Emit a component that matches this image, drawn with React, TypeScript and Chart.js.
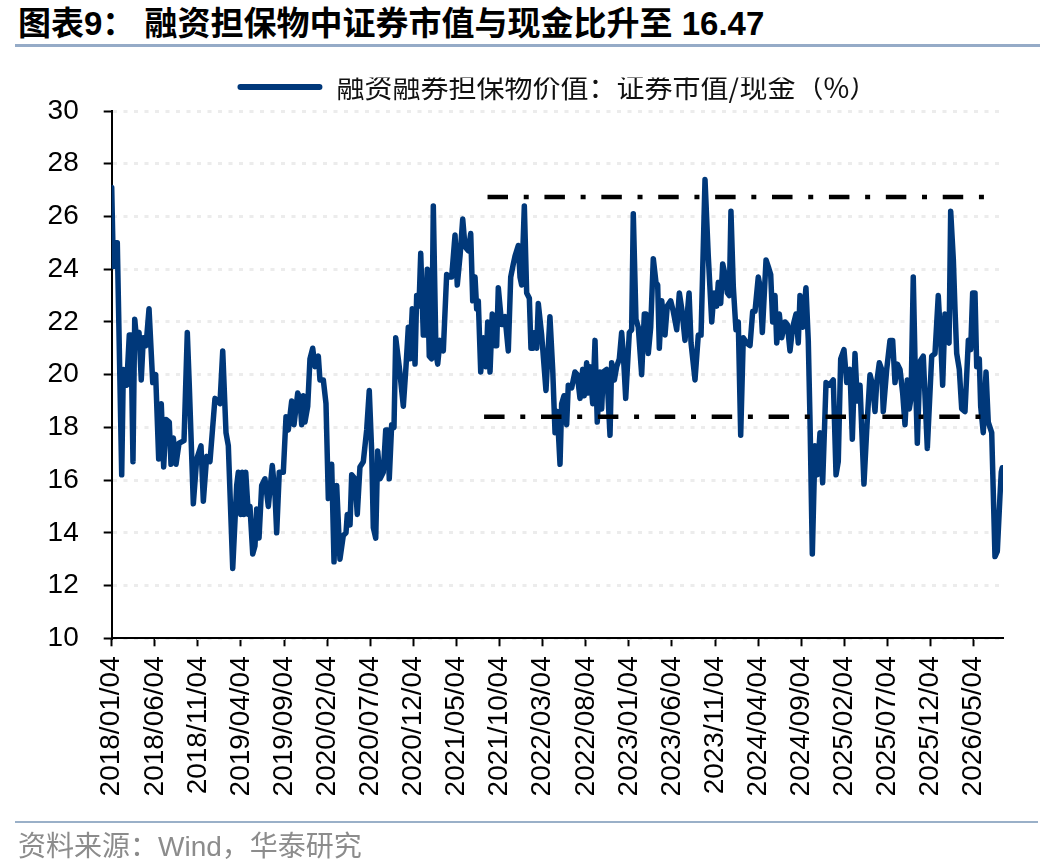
import { useEffect, useRef } from "react";
import { Chart, registerables } from "chart.js";

Chart.register(...registerables);

// x = months since 2018/01/04, y = 证券市值/现金 (%)
const monthOffset = [
    0.0, 0.19, 0.38, 0.65, 1.16, 1.35, 1.74, 2.04, 2.24, 2.47, 2.67, 2.9, 3.17, 3.43, 3.67, 3.98, 4.33, 4.76,
    5.1, 5.45, 5.75, 6.03, 6.3, 6.68, 6.88, 7.15, 7.46, 7.81, 8.39, 8.77, 9.0, 9.47, 9.86, 10.36, 10.63, 11.02,
    11.4, 11.98, 12.56, 12.88, 13.26, 13.53, 14.04, 14.5, 14.69, 14.97, 15.15, 15.35, 15.55, 15.85, 16.04,
    16.36, 16.62, 16.82, 17.09, 17.4, 17.78, 18.17, 18.63, 18.94, 19.14, 19.44, 19.91, 20.22, 20.49, 20.88,
    21.15, 21.58, 21.84, 22.04, 22.23, 22.42, 22.74, 23.0, 23.32, 23.58, 23.97, 24.16, 24.55, 24.86, 25.13,
    25.52, 25.79, 26.1, 26.48, 26.87, 27.18, 27.33, 27.65, 27.84, 28.23, 28.49, 28.8, 29.19, 29.58, 29.88,
    30.16, 30.35, 30.63, 30.86, 31.13, 31.51, 31.79, 32.02, 32.2, 32.48, 32.75, 32.95, 33.36, 33.83, 34.14,
    34.41, 34.61, 34.87, 35.19, 35.38, 35.65, 35.85, 36.15, 36.38, 36.61, 36.84, 37.12, 37.31, 37.62, 37.82,
    38.09, 38.47, 38.86, 39.16, 39.44, 39.83, 40.09, 40.41, 40.72, 40.99, 41.37, 41.65, 41.88, 42.15, 42.34,
    42.53, 42.81, 43.11, 43.42, 43.62, 43.89, 44.15, 44.47, 44.66, 44.85, 45.24, 45.63, 46.01, 46.29, 46.59,
    46.79, 47.17, 47.37, 47.56, 47.87, 48.14, 48.45, 48.64, 48.91, 49.1, 49.3, 49.49, 49.88, 50.38, 50.84,
    51.16, 51.43, 51.69, 52.01, 52.2, 52.47, 52.78, 52.97, 53.36, 53.74, 54.01, 54.33, 54.64, 54.82, 55.1,
    55.29, 55.48, 55.8, 56.07, 56.33, 56.65, 56.84, 57.03, 57.42, 57.81, 58.0, 58.31, 58.58, 58.89, 59.16,
    59.35, 59.63, 60.05, 60.32, 60.51, 60.82, 61.09, 61.48, 61.79, 61.98, 62.25, 62.53, 62.83, 63.14, 63.34,
    63.53, 63.81, 64.19, 64.45, 64.85, 65.15, 65.55, 65.85, 66.13, 66.51, 66.98, 67.21, 67.67, 68.05, 68.37,
    68.83, 69.21, 69.61, 69.87, 70.19, 70.37, 70.65, 70.88, 71.15, 71.42, 71.65, 71.84, 72.11, 72.42, 72.69,
    72.97, 73.27, 73.67, 74.05, 74.36, 74.63, 75.01, 75.21, 75.48, 75.91, 76.17, 76.45, 76.68, 76.95, 77.15,
    77.45, 77.73, 78.11, 78.38, 78.69, 79.0, 79.39, 79.65, 79.85, 80.16, 80.54, 80.81, 81.01, 81.28, 81.59,
    81.86, 82.17, 82.48, 82.87, 83.25, 83.71, 84.03, 84.29, 84.57, 84.95, 85.27, 85.65, 85.92, 86.23, 86.5,
    86.81, 87.27, 87.59, 87.97, 88.28, 88.55, 88.75, 89.05, 89.33, 89.51, 89.91, 90.29, 90.6, 90.87, 91.14,
    91.45, 91.76, 92.03, 92.3, 92.53, 92.73, 92.99, 93.19, 93.46, 93.77, 94.15, 94.62, 95.13, 95.51, 95.89,
    96.17, 96.4, 96.67, 96.94, 97.14, 97.33, 97.64, 97.83, 98.03, 98.33, 98.61, 98.99, 99.38, 99.65, 99.88,
    100.15, 100.35, 100.65, 100.81, 101.11, 101.43, 101.69, 102.09, 102.47, 102.74, 103.05, 103.2, 103.32,
];

const ratio = [
    27.1, 24.1, 25.0, 25.0, 16.2, 20.2, 19.6, 21.5, 21.5, 16.7, 22.1, 21.3, 21.6, 19.8, 21.4, 21.1, 22.5, 19.7,
    20.0, 16.8, 18.9, 16.5, 18.3, 18.2, 16.6, 17.6, 16.6, 17.4, 17.5, 21.6, 19.6, 15.1, 16.8, 17.3, 15.2, 16.9,
    16.7, 19.1, 18.9, 20.9, 17.8, 17.3, 12.65, 15.8, 16.3, 14.7, 16.3, 14.7, 16.3, 14.7, 15.0,
    13.2, 13.5, 14.9, 13.8, 15.8, 16.05, 15.0, 16.55, 15.5, 14.0, 16.3, 16.3, 18.4, 17.9, 19.0,
    18.1, 19.3, 19.1, 18.1, 19.2, 18.2, 18.8, 20.6, 21.0, 20.3, 20.7, 19.8, 19.8, 18.9, 15.3,
    16.6, 12.9, 15.8, 13.0, 13.9, 14.0, 14.7, 14.3, 16.2, 16.05, 14.7, 16.5, 16.7, 17.9, 19.4,
    17.1, 14.2, 13.8, 17.1, 16.05, 16.3, 17.9, 17.9, 16.05, 18.1, 18.0, 21.4, 20.3, 18.8, 20.3,
    21.8, 20.6, 22.5, 20.4, 23.0, 22.6, 24.6, 21.5, 21.5, 24.0, 20.7, 20.6, 26.4, 20.8, 20.4,
    21.3, 20.9, 23.8, 23.7, 23.7, 25.3, 23.4, 24.5, 25.9, 24.85, 24.7, 25.35, 22.8, 23.7, 22.5,
    22.8, 20.1, 21.4, 20.3, 22.0, 20.1, 22.3, 21.1, 21.1, 23.3, 21.9, 22.2, 20.9, 23.7, 24.2,
    24.5, 24.9, 23.7, 23.4, 26.4, 23.1, 22.9, 21.0, 21.0, 21.6, 21.0, 22.7, 21.5, 19.4, 22.2,
    20.2, 17.8, 18.6, 16.6, 18.9, 19.2, 18.1, 19.6, 19.5, 20.1, 20.0, 19.1, 20.2, 19.2, 20.45,
    19.3, 20.3, 18.9, 21.3, 18.2, 20.1, 18.7, 20.1, 20.2, 17.7, 20.45, 19.8, 20.3, 20.6, 21.6,
    20.8, 19.1, 21.6, 21.7, 26.1, 22.1, 21.8, 20.0, 22.3, 22.3, 20.8, 21.8, 24.4, 23.5, 23.4,
    21.0, 22.8, 21.5, 22.6, 22.8, 22.4, 21.7, 23.1, 22.5, 21.3, 23.1, 21.2, 19.8, 21.5, 21.5,
    27.4, 24.5, 22.0, 23.1, 22.6, 23.5, 22.7, 24.2, 23.8, 23.1, 23.0, 26.2, 23.35, 21.7, 22.0,
    17.7, 21.4, 21.2, 21.1, 22.4, 22.4, 23.7, 23.35, 21.6, 24.35, 24.1, 23.8, 22.0, 23.0, 21.2,
    22.3, 21.4, 22.0, 21.9, 20.9, 21.8, 22.3, 21.2, 23.0, 21.8, 23.3, 21.3, 18.3, 13.2, 17.3,
    16.2, 17.8, 15.9, 19.7, 19.6, 19.8, 16.2, 16.7, 20.6, 20.95, 19.7, 20.2, 17.55, 20.8, 19.0,
    19.6, 15.85, 17.9, 20.0, 19.6, 18.6, 19.7, 20.45, 20.2, 18.6, 20.2, 21.3, 21.3, 19.7, 20.4,
    20.2, 19.3, 18.1, 19.8, 18.7, 19.1, 23.7, 20.6, 17.4, 20.5, 20.7, 17.2, 20.7, 20.8, 23.0,
    21.3, 19.6, 22.3, 21.3, 21.2, 26.2, 24.35, 22.5, 20.8, 20.2, 18.7, 18.6, 21.3, 20.95, 23.1,
    23.1, 20.3, 20.6, 18.8, 17.8, 20.1, 18.2, 17.8, 13.1, 13.3, 15.4, 16.3, 16.47,
];

const tickMonths = [0, 5, 10, 15, 20, 25, 30, 35, 40, 45, 50, 55, 60, 65, 70, 75, 80, 85, 90, 95, 100];
const tickLabels = [
    "2018/01/04", "2018/06/04", "2018/11/04", "2019/04/04", "2019/09/04", "2020/02/04", "2020/07/04",
    "2020/12/04", "2021/05/04", "2021/10/04", "2022/03/04", "2022/08/04", "2023/01/04", "2023/06/04",
    "2023/11/04", "2024/04/04", "2024/09/04", "2025/02/04", "2025/07/04", "2025/12/04", "2026/05/04",
];

// 区间参考线
const upperBand = 26.74;
const lowerBand = 18.4;
const upperStart = 43.6;
const lowerStart = 43.2;
const bandEnd = 102.45;

const seriesName = "融资融券担保物价值：证券市值/现金（%）";
const NAVY = "#00387a";
const LATIN = '"Liberation Sans", Arial, sans-serif';
const CJK = '"Liberation Sans", "Noto Sans CJK SC", sans-serif';

const RatioChart = () => {
    const chartRef = useRef<HTMLCanvasElement>(null);
    const chartInstance = useRef<Chart | null>(null);

    useEffect(() => {
        document.body.style.margin = "0";
        if (!chartRef.current) return;

        const dash = [20.5, 15.7, 5, 15.7];
        const config = {
            type: "line",
            data: {
                datasets: [
                    {
                        label: seriesName,
                        data: monthOffset.map((x, i) => ({ x, y: ratio[i] })),
                        borderColor: NAVY,
                        backgroundColor: NAVY,
                        borderWidth: 5.5,
                        pointRadius: 0,
                        tension: 0,
                        borderJoinStyle: "round",
                        borderCapStyle: "round",
                        order: 1,
                    },
                    {
                        label: "upper",
                        data: [
                            { x: upperStart, y: upperBand },
                            { x: bandEnd, y: upperBand },
                        ],
                        borderColor: "#000",
                        borderWidth: 4.5,
                        borderDash: dash,
                        pointRadius: 0,
                        order: 0,
                    },
                    {
                        label: "lower",
                        data: [
                            { x: lowerStart, y: lowerBand },
                            { x: bandEnd, y: lowerBand },
                        ],
                        borderColor: "#000",
                        borderWidth: 4.5,
                        borderDash: dash,
                        pointRadius: 0,
                        order: 0,
                    },
                ],
            },
            options: {
                animation: false,
                responsive: false,
                layout: { padding: { top: 77.5, right: 50, left: 0, bottom: 0 } },
                plugins: {
                    tooltip: { enabled: false },
                    legend: {
                        position: "top",
                        fullSize: false,
                        labels: {
                            boxWidth: 85,
                            boxHeight: 6,
                            padding: -4.5,
                            color: "#111",
                            useBorderRadius: true,
                            borderRadius: 3,
                            font: { size: 28, family: '"Noto Sans CJK SC", sans-serif' },
                            generateLabels: (chart: Chart) =>
                                Chart.defaults.plugins.legend.labels
                                    .generateLabels(chart)
                                    .filter((l: any) => l.datasetIndex === 0)
                                    .map((l: any) => ({ ...l, lineWidth: 0 })),
                        },
                    },
                },
                scales: {
                    x: {
                        type: "linear",
                        min: 0,
                        max: 103.4,
                        afterBuildTicks: (scale: any) => {
                            scale.ticks = tickMonths.map((v) => ({ value: v }));
                        },
                        afterFit: (scale: any) => {
                            scale.height = 228.7;
                        },
                        ticks: {
                            autoSkip: false,
                            minRotation: 90,
                            maxRotation: 90,
                            padding: 10,
                            color: "#000",
                            font: { size: 28, family: LATIN },
                            callback: (v: number) => tickLabels[tickMonths.indexOf(v)] ?? "",
                        },
                        grid: {
                            drawOnChartArea: false,
                            drawTicks: true,
                            tickLength: 8,
                            tickColor: "#000",
                            tickWidth: 2,
                        },
                        border: { color: "#000", width: 2 },
                    },
                    y: {
                        min: 10,
                        max: 30,
                        afterFit: (scale: any) => {
                            scale.width = 111.7;
                        },
                        ticks: {
                            stepSize: 2,
                            padding: 25,
                            color: "#000",
                            font: { size: 28, family: LATIN },
                        },
                        grid: {
                            color: "#ececec",
                            lineWidth: 3,
                            tickLength: 8,
                            tickColor: "#000",
                            tickWidth: 2,
                            tickBorderDash: [],
                        },
                        border: { color: "#000", width: 2, dash: [4, 6.5] },
                    },
                },
            },
        };

        if (chartInstance.current) {
            chartInstance.current.destroy();
        }
        const ctx = chartRef.current.getContext("2d");
        if (ctx) {
            chartInstance.current = new Chart(ctx, config as any);
        }

        return () => {
            if (chartInstance.current) {
                chartInstance.current.destroy();
                chartInstance.current = null;
            }
        };
    }, []);

    return (
        <canvas
            ref={chartRef}
            width={1053}
            height={867}
            style={{ position: "absolute", left: 0, top: 0, width: 1053, height: 867 }}
        />
    );
};

export default function App() {
    return (
        <div style={{ position: "relative", width: 1053, height: 867, background: "#fff", overflow: "hidden" }}>
            <div
                style={{
                    position: "absolute",
                    left: 18,
                    top: 4,
                    fontSize: 33,
                    fontWeight: 700,
                    lineHeight: "40px",
                    fontFamily: CJK,
                    color: "#000",
                    whiteSpace: "nowrap",
                }}
            >
                图表9： 融资担保物中证券市值与现金比升至 16.47
            </div>
            <div style={{ position: "absolute", left: 15, top: 43.5, width: 1025, height: 3, background: "#95abc7" }} />
            <RatioChart />
            <div style={{ position: "absolute", left: 15, top: 820.5, width: 1023, height: 2.5, background: "#9ab0c8" }} />
            <div
                style={{
                    position: "absolute",
                    left: 18,
                    top: 828,
                    fontSize: 28,
                    lineHeight: "38px",
                    fontFamily: CJK,
                    color: "#8c8c8c",
                    whiteSpace: "nowrap",
                }}
            >
                资料来源：Wind，华泰研究
            </div>
        </div>
    );
}
